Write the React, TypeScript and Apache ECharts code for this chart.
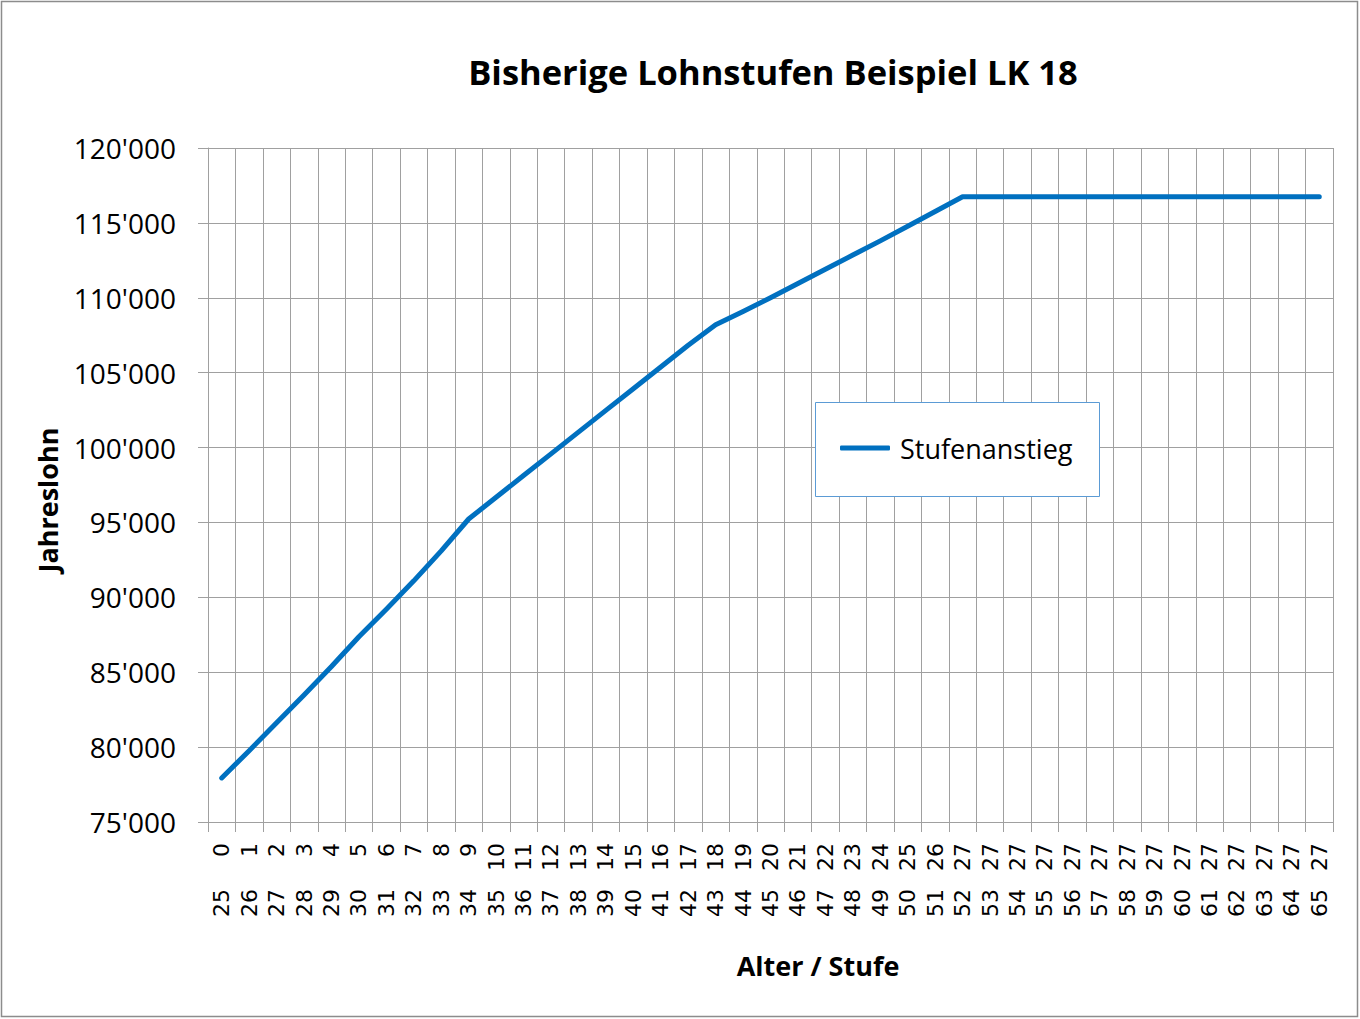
import React, { useEffect, useRef } from "react";
import * as echarts from "echarts";

const titleText = "Bisherige Lohnstufen Beispiel LK 18";
const seriesName = "Stufenanstieg";
const xTitle = "Alter / Stufe";
const yTitle = "Jahreslohn";

const ages = [
  "25", "26", "27", "28", "29", "30", "31", "32", "33", "34", "35", "36", "37", "38",
  "39", "40", "41", "42", "43", "44", "45", "46", "47", "48", "49", "50", "51", "52",
  "53", "54", "55", "56", "57", "58", "59", "60", "61", "62", "63", "64", "65",
];
const stufen = [
  "0", "1", "2", "3", "4", "5", "6", "7", "8", "9", "10", "11", "12", "13",
  "14", "15", "16", "17", "18", "19", "20", "21", "22", "23", "24", "25", "26", "27",
  "27", "27", "27", "27", "27", "27", "27", "27", "27", "27", "27", "27", "27",
];
const lohn = [
  77940, 79760, 81620, 83480, 85380, 87370, 89200, 91100, 93100, 95230,
  96680, 98130, 99580, 101030, 102480, 103930, 105380, 106830, 108200, 109080,
  110000, 110950, 111900, 112850, 113800, 114780, 115760, 116740, 116740, 116740,
  116740, 116740, 116740, 116740, 116740, 116740, 116740, 116740, 116740, 116740, 116740,
];
const yMin = 75000;
const yMax = 120000;
const yStep = 5000;

const fmt = (v: number) => String(v).replace(/\B(?=(\d{3})+(?!\d))/g, "'");

const GRID = "#a0a0a0";
const LINE = "#0070C0";
const SANS = "'Open Sans', sans-serif";

export default function App() {
  const ref = useRef<HTMLDivElement>(null);
  useEffect(() => {
    if (!ref.current) return;
    const chart = echarts.init(ref.current, null, { renderer: "svg" });
    chart.setOption({
      animation: false,
      backgroundColor: "#ffffff",
      grid: { left: 208, right: 27, top: 148, bottom: 197, containLabel: false },
      legend: {
        data: [{ name: seriesName, icon: "roundRect" }],
        left: 835,
        top: 428,
        itemWidth: 50,
        itemHeight: 5,
        itemStyle: { color: LINE },
        textStyle: { fontFamily: SANS, fontSize: 27, color: "#000", lineHeight: 30, padding: [0, 0, 0, 5] },
        z: 5,
      },
      graphic: [
        {
          type: "rect",
          z: 0,
          silent: true,
          shape: { x: 1.5, y: 1.5, width: 1356, height: 1015 },
          style: { fill: "none", stroke: "#8c8c8c", lineWidth: 1.5 },
        },
        {
          type: "rect",
          z: 4,
          silent: true,
          shape: { x: 815.5, y: 402.5, width: 284, height: 94 },
          style: { fill: "#ffffff", stroke: "#5b9bd5", lineWidth: 1 },
        },
        {
          type: "text",
          x: 773,
          y: 71,
          style: {
            text: titleText,
            fontFamily: SANS,
            fontWeight: "bold",
            fontSize: 34.5,
            fill: "#000",
            textAlign: "center",
            textVerticalAlign: "middle",
          },
        },
        {
          type: "text",
          x: 818,
          y: 965,
          style: {
            text: xTitle,
            fontFamily: SANS,
            fontWeight: "bold",
            fontSize: 27,
            fill: "#000",
            textAlign: "center",
            textVerticalAlign: "middle",
          },
        },
        {
          type: "text",
          x: 47,
          y: 500,
          rotation: Math.PI / 2,
          style: {
            text: yTitle,
            fontFamily: SANS,
            fontWeight: "bold",
            fontSize: 27,
            fill: "#000",
            textAlign: "center",
            textVerticalAlign: "middle",
          },
        },
      ],
      xAxis: [
        {
          type: "category",
          data: stufen,
          boundaryGap: true,
          axisLine: { show: true, lineStyle: { color: GRID, width: 1 } },
          axisTick: { show: true, interval: 0, length: 10, lineStyle: { color: GRID } },
          splitLine: { show: true, interval: 0, lineStyle: { color: GRID, width: 1 } },
          axisLabel: {
            interval: 0,
            rotate: 90,
            margin: 21,
            fontFamily: "'DejaVu Sans', sans-serif",
            fontSize: 22,
            color: "#000",
          },
        },
        {
          type: "category",
          data: ages,
          position: "bottom",
          boundaryGap: true,
          axisLine: { show: false },
          axisTick: { show: false },
          splitLine: { show: false },
          axisLabel: {
            interval: 0,
            rotate: 90,
            margin: 67,
            fontFamily: "'DejaVu Sans', sans-serif",
            fontSize: 22,
            color: "#000",
          },
        },
      ],
      yAxis: {
        type: "value",
        min: yMin,
        max: yMax,
        interval: yStep,
        axisLine: { show: true, lineStyle: { color: GRID, width: 1 } },
        axisTick: { show: true, length: 10, lineStyle: { color: GRID } },
        splitLine: { show: true, lineStyle: { color: GRID, width: 1 } },
        axisLabel: {
          margin: 32,
          formatter: (v: number) => fmt(v),
          fontFamily: SANS,
          fontSize: 28,
          color: "#000",
          padding: [0, 0, 4, 0],
        },
      },
      series: [
        {
          name: seriesName,
          type: "line",
          xAxisIndex: 0,
          data: lohn,
          showSymbol: false,
          symbol: "none",
          smooth: false,
          lineStyle: { color: LINE, width: 5, cap: "round", join: "round" },
          itemStyle: { color: LINE },
          z: 3,
        },
      ],
    });
    return () => chart.dispose();
  }, []);
  return (
    <div
      ref={ref}
      style={{ position: "absolute", left: 0, top: 0, width: 1360, height: 1019 }}
    />
  );
}
